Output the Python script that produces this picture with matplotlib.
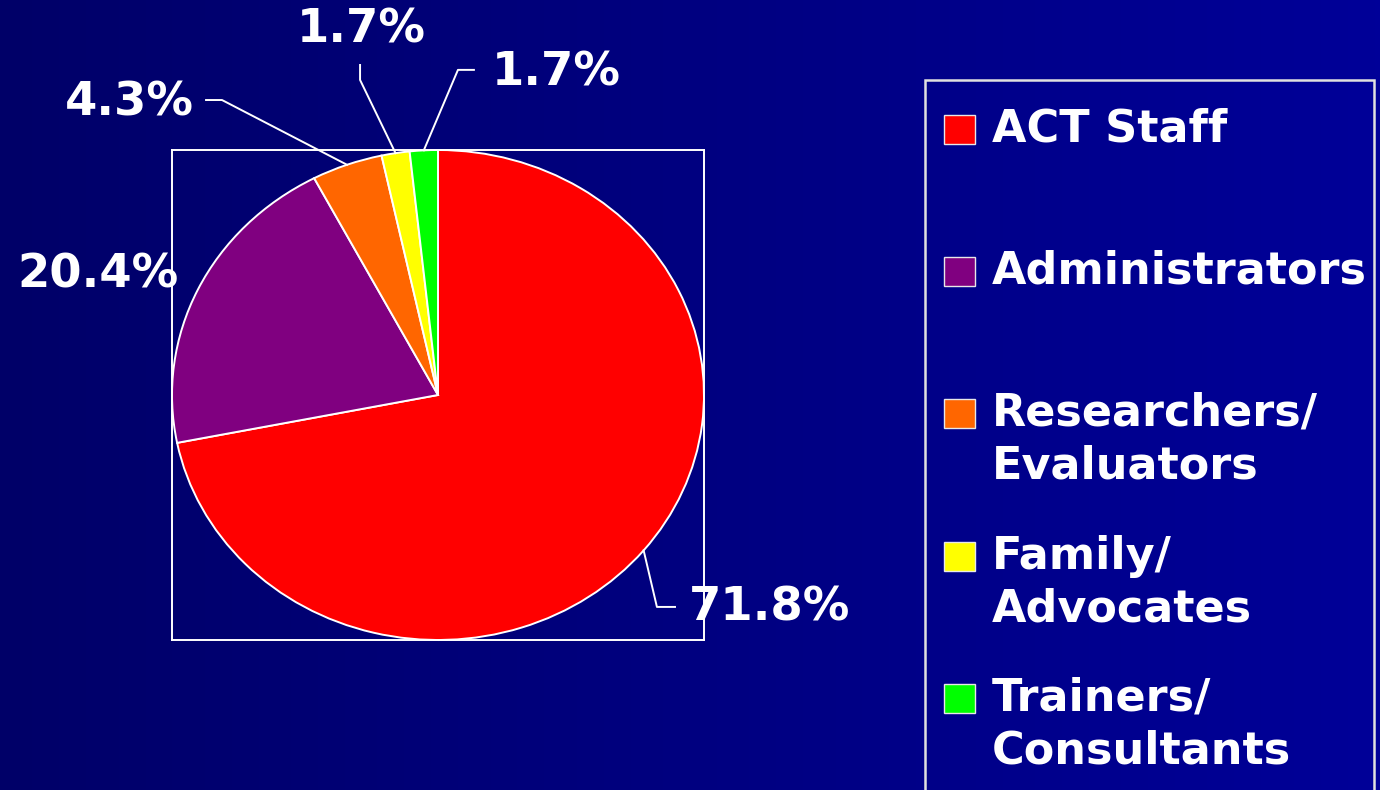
import numpy as np
import matplotlib
matplotlib.use("Agg")
import matplotlib.pyplot as plt
from matplotlib.patches import Rectangle

# data
categories = ["ACT Staff", "Administrators", "Researchers/\nEvaluators", "Family/\nAdvocates", "Trainers/\nConsultants"]
values = [71.8, 20.4, 4.3, 1.7, 1.7]
pct_labels = ["71.8%", "20.4%", "4.3%", "1.7%", "1.7%"]
colors = ["#ff0000", "#800080", "#ff6600", "#ffff00", "#00ff00"]

# label layout (data coords of the pie axes), leader elbow points
label_pos = [(1.245, -0.87), (-1.28, 0.49), (-1.16, 1.19), (-0.29, 1.49), (0.445, 1.315)]
leaders = [
    [(0.823, -0.865), (0.891, -0.865)],
    None,
    [(-0.812, 1.204), (-0.872, 1.204)],
    [(-0.293, 1.286), (-0.293, 1.347)],
    [(0.075, 1.327), (0.135, 1.327)],
]

W, H = 1380, 790
fig = plt.figure(figsize=(W / 100, H / 100), dpi=100)

# background gradient
bg = fig.add_axes([0, 0, 1, 1])
grad = np.linspace(0, 1, 256).reshape(1, -1)
cmap = matplotlib.colors.LinearSegmentedColormap.from_list("bg", ["#000068", "#000098"])
bg.imshow(grad, aspect="auto", cmap=cmap, extent=[0, 1, 0, 1])
bg.set_xlim(0, 1)
bg.set_ylim(0, 1)
bg.axis("off")

# pie axes
ax = fig.add_axes([172 / W, 150 / H, 532 / W, 490 / H])
ax.set_facecolor("none")
wedges, _ = ax.pie(values, colors=colors, startangle=90, counterclock=False,
                   wedgeprops=dict(edgecolor="white", linewidth=1.4))
ax.set_aspect("auto")
ax.set_xlim(-1, 1)
ax.set_ylim(-1, 1)
ax.set_xticks([])
ax.set_yticks([])
ax.set_frame_on(True)
for sp in ax.spines.values():
    sp.set_visible(True)
    sp.set_color("white")
    sp.set_linewidth(1.4)

# percent labels and leader lines
for w, lab, pos, lead in zip(wedges, pct_labels, label_pos, leaders):
    ang = np.deg2rad((w.theta1 + w.theta2) / 2)
    if lead is not None:
        xs = [np.cos(ang)] + [p[0] for p in lead]
        ys = [np.sin(ang)] + [p[1] for p in lead]
        ax.plot(xs, ys, color="white", lw=1.4, clip_on=False)
    ax.text(pos[0], pos[1], lab, color="white", fontsize=33.5, fontweight="bold",
            ha="center", va="center", clip_on=False)

# legend box
fig.add_artist(Rectangle((925 / W, -0.05), 449 / W, (H - 80) / H + 0.05,
                         transform=fig.transFigure, facecolor="none",
                         edgecolor="#e0e0e0", lw=1.8))
row_y = [129, 271, 413, 556, 698]
for cat, col, yy in zip(categories, colors, row_y):
    fig.add_artist(Rectangle((944 / W, (H - yy - 15) / H), 31 / W, 29 / H,
                             transform=fig.transFigure, facecolor=col,
                             edgecolor="#e8e8e8", lw=1))
    for k, line in enumerate(cat.split("\n")):
        fig.text(992 / W, (H - yy - 53 * k) / H, line, color="white",
                 fontsize=32, fontweight="bold", ha="left", va="center")

fig.savefig("out.png", dpi=100)
